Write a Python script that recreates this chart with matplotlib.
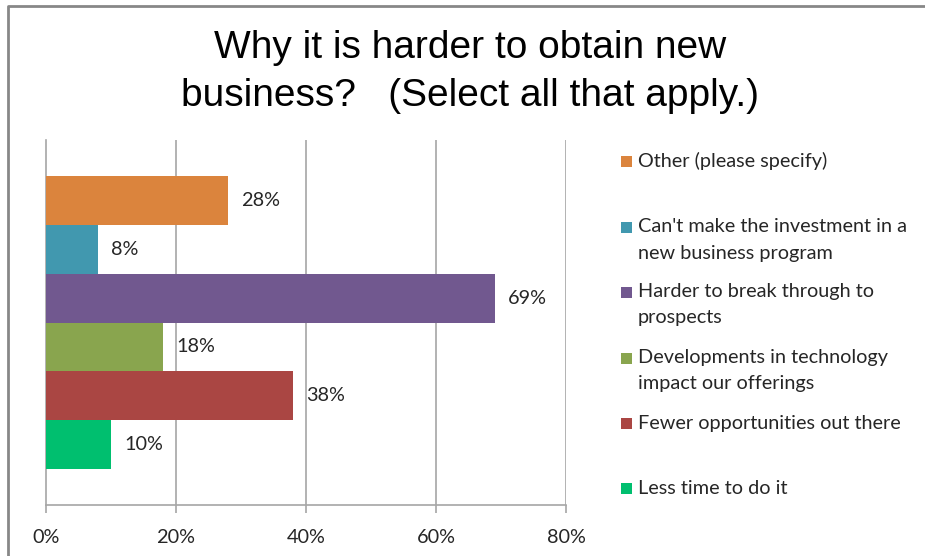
import matplotlib
matplotlib.use("Agg")
import matplotlib.pyplot as plt
from matplotlib.patches import Rectangle
from matplotlib.lines import Line2D
from matplotlib import font_manager

# Survey responses, listed bottom to top as drawn
categories = [
    "Less time to do it",
    "Fewer opportunities out there",
    "Developments in technology\nimpact our offerings",
    "Harder to break through to\nprospects",
    "Can't make the investment in a\nnew business program",
    "Other (please specify)",
]
values = [10, 38, 18, 69, 8, 28]
colors = ["#00BF6F", "#AA4643", "#89A54E", "#71588F", "#4198AF", "#DB843D"]
xticks = [0, 20, 40, 60, 80]
xtick_labels = ["0%", "20%", "40%", "60%", "80%"]
title = "Why it is harder to obtain new\nbusiness?   (Select all that apply.)"

W, H = 925, 556
available = {f.name for f in font_manager.fontManager.ttflist}
body_font = [f for f in ["Lato", "Open Sans", "DejaVu Sans"] if f in available]
title_font = [f for f in ["Liberation Sans Narrow", "Liberation Sans", "DejaVu Sans"] if f in available]
text_c = "#262626"
body_size = 14.3

fig = plt.figure(figsize=(W / 100, H / 100), dpi=100)
fig.patch.set_facecolor("white")


def fx(px):
    return px / W


def fy(py):
    return 1 - py / H


# Plot area
ax = fig.add_axes([fx(46), fy(505), fx(566) - fx(46), fy(140) - fy(505)])
ypos = list(range(len(categories)))
ax.barh(ypos, values, height=1.0, color=colors, edgecolor="none", zorder=3)
ax.set_xlim(0, 80)
ax.set_ylim(-1.24, len(categories) + 0.24)

grid_c = "#A6A6A6"
for t in xticks[1:]:
    ax.axvline(t, color=grid_c, lw=1.2, zorder=1)
for s in ["top", "right"]:
    ax.spines[s].set_visible(False)
for s in ["left", "bottom"]:
    ax.spines[s].set_color(grid_c)
    ax.spines[s].set_linewidth(1.2)
ax.set_yticks([])
ax.set_xticks(xticks)
ax.set_xticklabels(xtick_labels, family=body_font, fontsize=body_size, color=text_c)
ax.tick_params(axis="x", direction="out", length=6, width=1.2, color=grid_c, pad=11)
ax.set_facecolor("white")

for y, v in zip(ypos, values):
    ax.annotate(f"{v}%", xy=(v, y), xytext=(9.5, 0), textcoords="offset points",
                va="center", ha="left", family=body_font, fontsize=body_size, color=text_c)

# Title
fig.text(fx(470), fy(72), title, ha="center", va="center", family=title_font,
         fontsize=28, color="#000000", linespacing=1.42)

# Legend drawn at fixed spots to the right of the plot
legend_y = [161, 227, 292, 358, 423, 488]
line_step = 26
for y, lab, c in zip(legend_y, categories[::-1], colors[::-1]):
    fig.add_artist(Rectangle((fx(621), fy(y + 5.5)), fx(11), 11 / H,
                             transform=fig.transFigure, facecolor=c, edgecolor="none"))
    for i, line in enumerate(lab.split("\n")):
        fig.text(fx(638), fy(y + i * line_step), line, ha="left", va="center",
                 family=body_font, fontsize=body_size, color=text_c)

# Chart frame (top and left edges)
frame_c = "#878787"
fig.add_artist(Line2D([fx(8), fx(8), 1.0], [0.0, fy(5.5), fy(5.5)],
                      transform=fig.transFigure, color=frame_c, lw=2))

fig.savefig("out.png", dpi=100, facecolor="white")
